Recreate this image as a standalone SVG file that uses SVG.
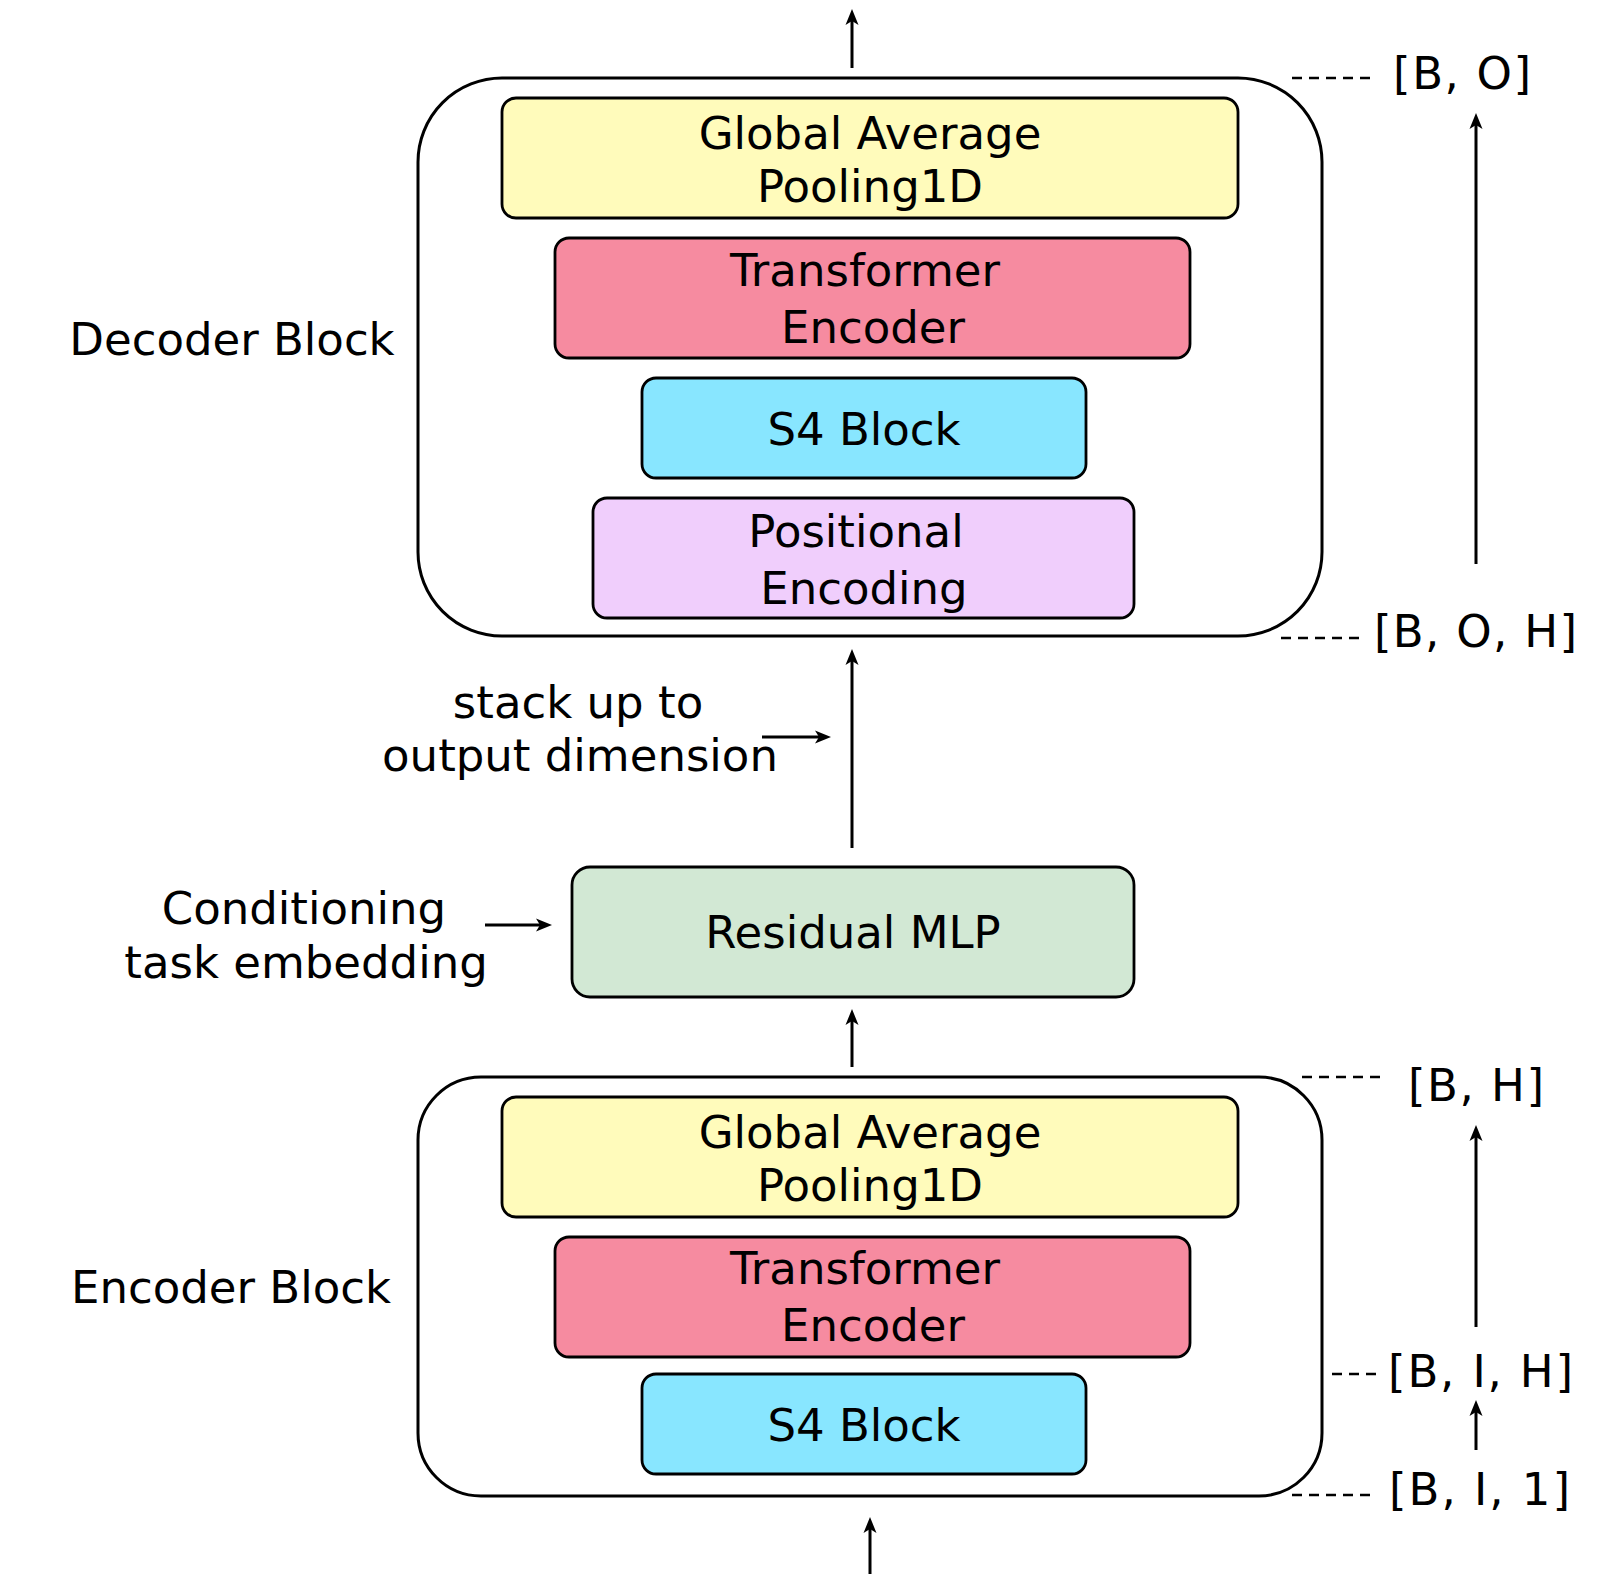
<svg xmlns="http://www.w3.org/2000/svg" width="1623" height="1587" viewBox="0 0 1623 1587">
  <defs>
    <marker id="arr" markerUnits="userSpaceOnUse" markerWidth="18" markerHeight="14" refX="10" refY="7" orient="auto">
      <path d="M0,0.5 L16,7 L0,13.5 L4,7 Z" fill="#000"/>
    </marker>
    <style>
      text { font-family: "DejaVu Sans", Verdana, sans-serif; font-size: 45px; fill: #000; }
      .c { text-anchor: middle; }
      .outer { fill: #fff; stroke: #000; stroke-width: 3; }
      .box { stroke: #000; stroke-width: 2.8; }
      .yellow { fill: #FFFBBB; }
      .pink { fill: #F68BA0; }
      .cyan { fill: #88E6FF; }
      .purple { fill: #F0CEFC; }
      .green { fill: #D2E8D4; }
      .conn line { stroke: #000; stroke-width: 3; fill: none; }
      .conn line.arrow { marker-end: url(#arr); }
      .dash line { stroke: #000; stroke-width: 2.6; stroke-dasharray: 10 7; }
    </style>
  </defs>
  <rect width="1623" height="1587" fill="#fff"/>

  <!-- Decoder block -->
  <g id="decoder-block">
    <rect class="outer" x="418" y="78" width="904" height="558" rx="84" ry="84"/>
    <text class="c" x="232" y="355">Decoder Block</text>
  </g>
  <g id="dec-gap">
    <rect class="box yellow" x="502" y="98" width="736" height="120" rx="14" ry="14"/>
    <text class="c" x="870" y="149">Global Average</text>
    <text class="c" x="870" y="202">Pooling1D</text>
  </g>
  <g id="dec-transformer">
    <rect class="box pink" x="555" y="238" width="635" height="120" rx="14" ry="14"/>
    <text class="c" x="865" y="286">Transformer</text>
    <text class="c" x="873" y="343">Encoder</text>
  </g>
  <g id="dec-s4">
    <rect class="box cyan" x="642" y="378" width="444" height="100" rx="14" ry="14"/>
    <text class="c" x="864" y="445">S4 Block</text>
  </g>
  <g id="dec-posenc">
    <rect class="box purple" x="593" y="498" width="541" height="120" rx="14" ry="14"/>
    <text class="c" x="856" y="547">Positional</text>
    <text class="c" x="864" y="604">Encoding</text>
  </g>

  <!-- Residual MLP -->
  <g id="residual-mlp">
    <rect class="box green" x="572" y="867" width="562" height="130" rx="18" ry="18"/>
    <text class="c" x="853" y="948">Residual MLP</text>
  </g>

  <!-- Encoder block -->
  <g id="encoder-block">
    <rect class="outer" x="418" y="1077" width="904" height="419" rx="63" ry="63"/>
    <text class="c" x="231" y="1303">Encoder Block</text>
  </g>
  <g id="enc-gap">
    <rect class="box yellow" x="502" y="1097" width="736" height="120" rx="14" ry="14"/>
    <text class="c" x="870" y="1148">Global Average</text>
    <text class="c" x="870" y="1201">Pooling1D</text>
  </g>
  <g id="enc-transformer">
    <rect class="box pink" x="555" y="1237" width="635" height="120" rx="14" ry="14"/>
    <text class="c" x="865" y="1284">Transformer</text>
    <text class="c" x="873" y="1341">Encoder</text>
  </g>
  <g id="enc-s4">
    <rect class="box cyan" x="642" y="1374" width="444" height="100" rx="14" ry="14"/>
    <text class="c" x="864" y="1441">S4 Block</text>
  </g>

  <!-- Side labels -->
  <g id="label-stack">
    <text class="c" x="578" y="718">stack up to</text>
    <text class="c" x="580" y="771">output dimension</text>
  </g>
  <g id="label-conditioning">
    <text class="c" x="304" y="924">Conditioning</text>
    <text class="c" x="306" y="978">task embedding</text>
  </g>

  <!-- Shape labels -->
  <g id="shape-BO"><text x="1393" y="89" textLength="138" lengthAdjust="spacing">[B, O]</text></g>
  <g id="shape-BOH"><text x="1374" y="647" textLength="203" lengthAdjust="spacing">[B, O, H]</text></g>
  <g id="shape-BH"><text x="1408" y="1101" textLength="136" lengthAdjust="spacing">[B, H]</text></g>
  <g id="shape-BIH"><text x="1388" y="1387" textLength="185" lengthAdjust="spacing">[B, I, H]</text></g>
  <g id="shape-BI1"><text x="1389" y="1505" textLength="181" lengthAdjust="spacing">[B, I, 1]</text></g>

  <!-- Connectors -->
  <g id="connectors" class="conn">
    <line class="arrow" x1="852" y1="68" x2="852" y2="15"/>
    <line class="arrow" x1="852" y1="848" x2="852" y2="655"/>
    <line class="arrow" x1="852" y1="1067" x2="852" y2="1015"/>
    <line class="arrow" x1="870" y1="1574" x2="870" y2="1523"/>
    <line class="arrow" x1="1476" y1="564" x2="1476" y2="119"/>
    <line class="arrow" x1="1476" y1="1327" x2="1476" y2="1131"/>
    <line class="arrow" x1="1476" y1="1450" x2="1476" y2="1406"/>
    <line class="arrow" x1="762" y1="737" x2="825" y2="737"/>
    <line class="arrow" x1="485" y1="925" x2="546" y2="925"/>
  </g>
  <g id="dashes" class="dash">
    <line x1="1292" y1="78" x2="1377" y2="78"/>
    <line x1="1281" y1="638" x2="1365" y2="638"/>
    <line x1="1302" y1="1077" x2="1386" y2="1077"/>
    <line x1="1332" y1="1374" x2="1380" y2="1374"/>
    <line x1="1292" y1="1495" x2="1376" y2="1495"/>
  </g>
</svg>
